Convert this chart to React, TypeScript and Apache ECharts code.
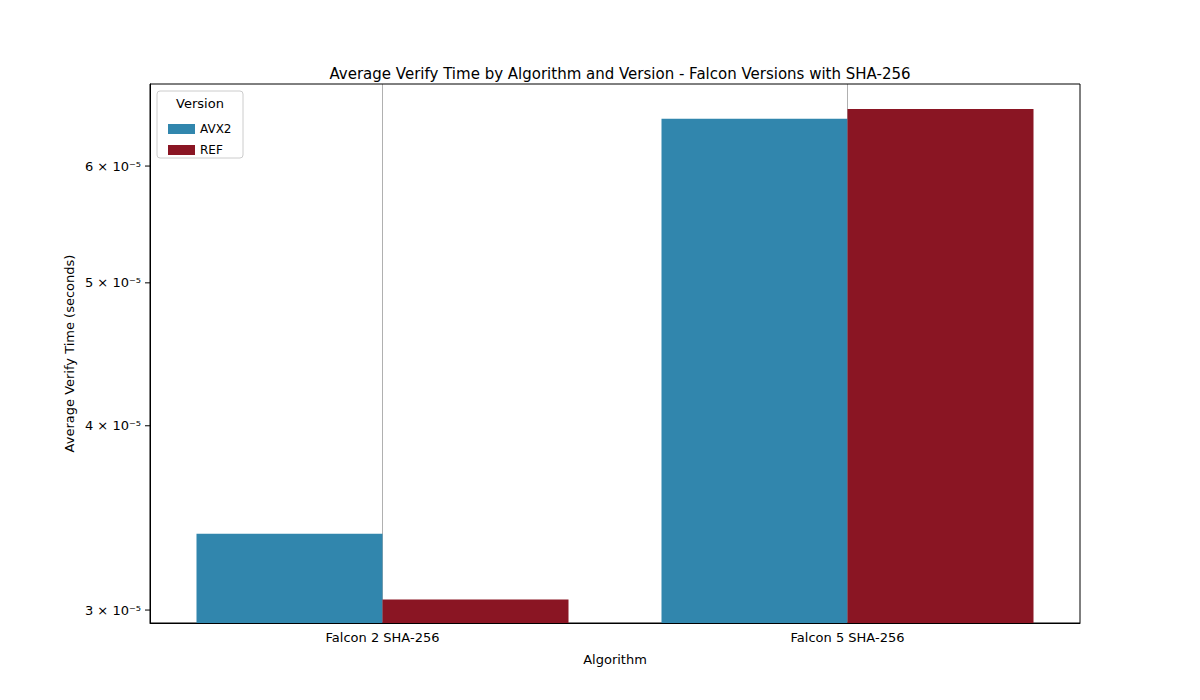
import React, { useEffect, useRef } from "react";
import * as echarts from "echarts";

const categories = ["Falcon 2 SHA-256", "Falcon 5 SHA-256"];
const avx2 = [3.38e-5, 6.46e-5];
const ref = [3.05e-5, 6.56e-5];
const yTicks = [3e-5, 4e-5, 5e-5, 6e-5];
const yTickLabels = ["3 × 10⁻⁵", "4 × 10⁻⁵", "5 × 10⁻⁵", "6 × 10⁻⁵"];
const yMin = 2.94e-5;
const yMax = 6.82e-5;

const tr = (v: number) => Math.log10(v / yMin);

export default function App() {
  const ref0 = useRef<HTMLDivElement>(null);
  useEffect(() => {
    document.body.style.margin = "0";
    const chart = echarts.init(ref0.current!, null, { renderer: "svg" });
    const font = "DejaVu Sans";
    chart.setOption({
      animation: false,
      textStyle: { fontFamily: font },
      title: {
        text: "Average Verify Time by Algorithm and Version - Falcon Versions with SHA-256",
        left: 615, top: 61, textAlign: "center",
        textStyle: { fontSize: 15, fontWeight: "normal", color: "#000", fontFamily: font },
      },
      grid: { left: 150, right: 120, top: 84, bottom: 77, show: true, borderColor: "#000", borderWidth: 1 },
      legend: {
        orient: "vertical", left: 163, top: 118, itemWidth: 27, itemHeight: 10, itemGap: 9,
        data: ["AVX2", "REF"], icon: "rect",
        textStyle: { fontSize: 12, color: "#000", fontFamily: font },
      },
      xAxis: {
        type: "category", data: categories,
        name: "Algorithm", nameLocation: "middle", nameGap: 30,
        nameTextStyle: { fontSize: 13, color: "#000" },
        axisLine: { lineStyle: { color: "#000" } },
        axisTick: { alignWithLabel: true, lineStyle: { color: "#000" } },
        axisLabel: { fontSize: 13, color: "#000", margin: 8 },
        splitLine: { show: false },
      },
      yAxis: {
        type: "value", min: 0, max: tr(yMax),
        name: "Average Verify Time (seconds)", nameLocation: "middle", nameGap: 74,
        nameTextStyle: { fontSize: 13, color: "#000" },
        axisLabel: { show: false }, axisTick: { show: false }, splitLine: { show: false },
        axisLine: { show: true, lineStyle: { color: "#000" } },
      },
      series: [
        { name: "AVX2", type: "bar", data: avx2.map(tr), barWidth: "40%", barGap: "0%", itemStyle: { color: "#3186ad" } },
        { name: "REF", type: "bar", data: ref.map(tr), barWidth: "40%", barGap: "0%", itemStyle: { color: "#8a1523" } },
      ],
    });
    const els: any[] = [];
    categories.forEach((c) => {
      const x = chart.convertToPixel({ xAxisIndex: 0 }, c) as number;
      els.push({ type: "line", z: -5, shape: { x1: x, y1: 84, x2: x, y2: 623 }, style: { stroke: "#b0b0b0", lineWidth: 1 } });
    });
    yTicks.forEach((v, i) => {
      const y = chart.convertToPixel({ yAxisIndex: 0 }, tr(v)) as number;
      els.push({ type: "line", shape: { x1: 145, y1: y, x2: 150, y2: y }, style: { stroke: "#000", lineWidth: 1 } });
      els.push({
        type: "text", x: 141, y, style: { text: yTickLabels[i], align: "right", verticalAlign: "middle", fontSize: 13, fill: "#000", fontFamily: font },
      });
    });
    els.push({ type: "rect", shape: { x: 157, y: 91, width: 86, height: 67, r: 3 }, style: { fill: "rgba(255,255,255,0.8)", stroke: "#ccc", lineWidth: 1 }, z: -1 });
    els.push({ type: "text", x: 200, y: 103, style: { text: "Version", align: "center", verticalAlign: "middle", fontSize: 13, fill: "#000", fontFamily: font } });
    chart.setOption({ graphic: { elements: els } });
    return () => chart.dispose();
  }, []);
  return <div ref={ref0} style={{ width: 1200, height: 700 }} />;
}
